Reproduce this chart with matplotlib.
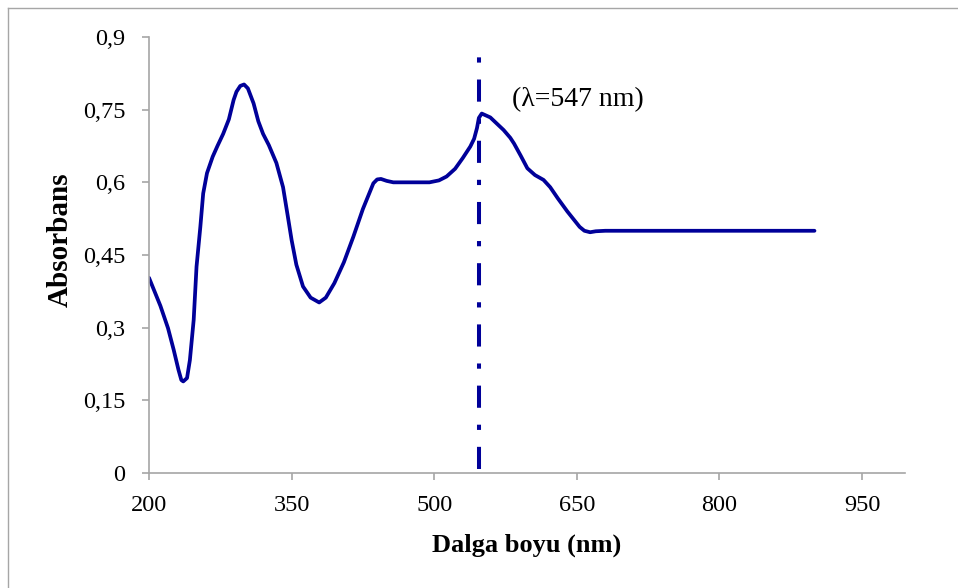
import matplotlib
matplotlib.use("Agg")
import matplotlib.pyplot as plt
from matplotlib.lines import Line2D

wavelength = [200, 212, 220, 226, 231, 234, 236, 240, 243, 247, 250, 254, 257, 261, 267, 272, 278, 284, 289,
              292, 296, 300, 304, 310, 315, 320, 326, 334, 341, 346, 350, 355, 362, 370, 379, 386, 395,
              405, 415, 425, 436, 440, 444, 450, 457, 475, 495, 505, 513, 522, 530, 538, 542, 545, 547,
              550, 559, 573, 580, 584, 591, 598, 606, 615, 622, 630, 640, 653, 658, 664, 670, 680, 700, 900]
absorbance = [0.403, 0.345, 0.299, 0.254, 0.213, 0.192, 0.189, 0.196, 0.233, 0.316, 0.426, 0.508, 0.577, 0.619,
              0.653, 0.675, 0.70, 0.730, 0.770, 0.787, 0.799, 0.802, 0.794, 0.763, 0.726, 0.700, 0.677,
              0.64, 0.59, 0.53, 0.481, 0.43, 0.385, 0.362, 0.352, 0.362, 0.392, 0.435, 0.488, 0.545,
              0.598, 0.606, 0.607, 0.603, 0.600, 0.600, 0.600, 0.604, 0.612, 0.628, 0.650, 0.674, 0.690,
              0.712, 0.733, 0.742, 0.734, 0.708, 0.692, 0.680, 0.655, 0.629, 0.615, 0.605, 0.59, 0.567,
              0.54, 0.508, 0.500, 0.497, 0.499, 0.500, 0.500, 0.500]
peak_wavelength = 547
x_ticks = [200, 350, 500, 650, 800, 950]
y_ticks = [0, 0.15, 0.3, 0.45, 0.6, 0.75, 0.9]
y_tick_labels = ["0", "0,15", "0,3", "0,45", "0,6", "0,75", "0,9"]

W, H = 958, 588
fig = plt.figure(figsize=(W / 100, H / 100), dpi=100)
plt.rcParams['font.family'] = ['Liberation Serif', 'DejaVu Serif']

ax = fig.add_axes([149 / W, (H - 473) / H, (905 - 149) / W, (473 - 37) / H])
color = '#000099'
ax.plot(wavelength, absorbance, color=color, lw=2.7, solid_capstyle='round', solid_joinstyle='round')
ax.plot([peak_wavelength, peak_wavelength], [0.008, 0.862], color=color, lw=2.9,
        dashes=(5.5, 4.2, 1.3, 4.2), dash_capstyle='butt')
ax.text(582, 0.77, "(λ=547 nm)", fontsize=20, va='center', ha='left')

ax.set_xlim(200, 200 + (905 - 149) / ((862 - 149) / 750))
ax.set_ylim(0, 0.9)
ax.set_xticks(x_ticks)
ax.set_yticks(y_ticks)
ax.set_yticklabels(y_tick_labels)
for s in ['top', 'right']:
    ax.spines[s].set_visible(False)
for s in ['left', 'bottom']:
    ax.spines[s].set_color('#A6A6A6')
    ax.spines[s].set_linewidth(1.2)
ax.tick_params(axis='both', direction='out', length=5, width=1.2, color='#A6A6A6', labelsize=17.5)
ax.tick_params(axis='x', pad=11)
ax.tick_params(axis='y', pad=12)
ax.set_xlabel("Dalga boyu (nm)", fontsize=19, fontweight='bold')
ax.set_ylabel("Absorbans", fontsize=21, fontweight='bold')
ax.xaxis.set_label_coords(0.5, (473 - 545) / 436)
ax.xaxis.label.set_va('center')
ax.yaxis.set_label_coords((60 - 149) / 756, (473 - 240) / 436)
ax.yaxis.label.set_va('center')

# outer chart frame (top and left edges visible)
fig.add_artist(Line2D([7.5 / W, 7.5 / W], [0, 1 - 7.5 / H], transform=fig.transFigure, color='#A6A6A6', lw=1))
fig.add_artist(Line2D([7.5 / W, 1], [1 - 7.5 / H, 1 - 7.5 / H], transform=fig.transFigure, color='#A6A6A6', lw=1))

fig.savefig("out.png", dpi=100)
